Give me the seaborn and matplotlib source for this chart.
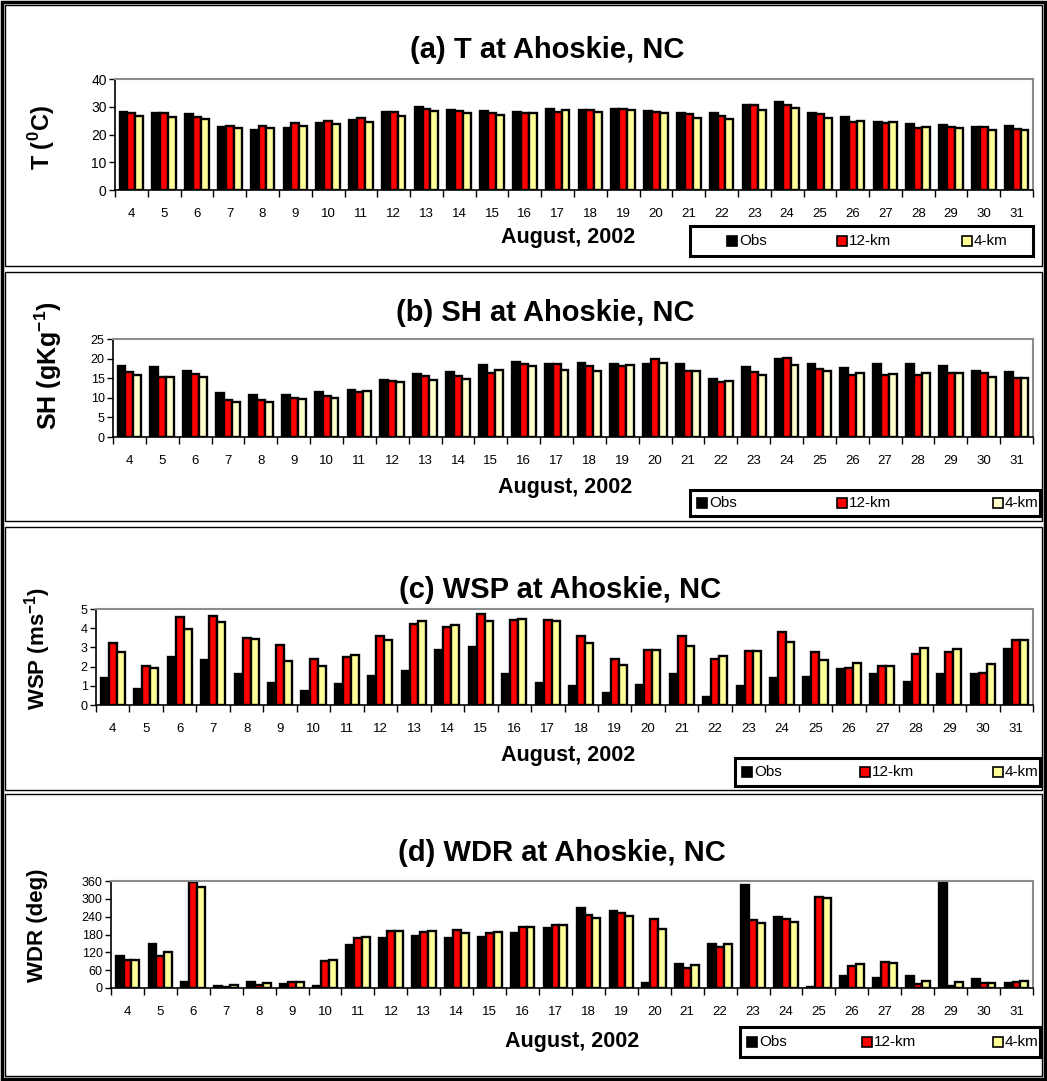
import numpy as np
import pandas as pd
import matplotlib
matplotlib.use("Agg")
import matplotlib.pyplot as plt
from matplotlib.patches import Rectangle
import seaborn as sns

sns.set_theme(style="white")
plt.rcParams["font.family"] = ["Liberation Sans", "DejaVu Sans"]
plt.rcParams["mathtext.fontset"] = "custom"
plt.rcParams["mathtext.rm"] = "Liberation Sans:bold"
plt.rcParams["mathtext.bf"] = "Liberation Sans:bold"
plt.rcParams["text.color"] = "black"
plt.rcParams["axes.labelcolor"] = "black"

days = [str(d) for d in range(4, 32)]
runs = ["Obs", "12-km", "4-km"]

# (a) temperature, deg C
t_obs = [28.1, 27.9, 27.4, 22.7, 21.5, 22.4, 24.2, 25.1, 28.2, 30.0, 28.9, 28.6, 28.1, 29.3,
         28.8, 29.1, 28.5, 27.6, 27.6, 30.7, 31.6, 27.6, 26.4, 24.6, 23.9, 23.4, 22.8, 23.0]
t_12 = [27.9, 27.7, 26.3, 23.0, 23.0, 24.2, 24.8, 25.8, 28.1, 29.1, 28.6, 27.9, 27.6, 28.2,
        28.9, 29.2, 28.1, 27.3, 26.7, 30.7, 30.7, 27.5, 24.6, 24.0, 22.4, 22.7, 22.6, 22.1]
t_4 = [26.7, 26.2, 25.6, 22.4, 22.2, 23.2, 23.9, 24.4, 26.8, 28.6, 27.9, 27.0, 27.7, 28.7,
       28.0, 28.7, 27.9, 26.1, 25.7, 28.9, 29.4, 26.1, 25.0, 24.5, 22.7, 22.4, 21.8, 21.8]

# (b) specific humidity, g/kg
sh_obs = [18.2, 17.8, 16.9, 11.3, 10.8, 10.6, 11.4, 12.1, 14.5, 16.0, 16.5, 18.3, 19.1, 18.6,
          18.9, 18.5, 18.6, 18.5, 14.7, 17.8, 20.0, 18.5, 17.6, 18.5, 18.6, 18.0, 16.9, 16.7]
sh_12 = [16.5, 15.4, 16.1, 9.4, 9.5, 9.9, 10.5, 11.5, 14.2, 15.6, 15.5, 16.3, 18.6, 18.6,
         18.2, 18.0, 19.9, 16.9, 14.0, 16.5, 20.1, 17.4, 15.9, 15.9, 15.9, 16.3, 16.2, 15.1]
sh_4 = [15.9, 15.4, 15.3, 8.9, 9.0, 9.7, 9.9, 11.7, 14.0, 14.5, 14.8, 17.0, 18.0, 17.2,
        16.8, 18.4, 19.0, 16.9, 14.2, 15.9, 18.3, 16.8, 16.4, 16.1, 16.4, 16.2, 15.3, 15.1]

# (c) wind speed, m/s
wsp_obs = [1.41, 0.85, 2.51, 2.35, 1.60, 1.17, 0.75, 1.10, 1.52, 1.76, 2.87, 3.01, 1.60, 1.16,
           0.99, 0.64, 1.05, 1.59, 0.42, 0.98, 1.41, 1.48, 1.90, 1.59, 1.18, 1.59, 1.59, 2.94]
wsp_12 = [3.22, 2.02, 4.56, 4.62, 3.47, 3.10, 2.37, 2.49, 3.57, 4.22, 4.04, 4.74, 4.41, 4.44,
          3.61, 2.42, 2.87, 3.57, 2.39, 2.79, 3.82, 2.77, 1.95, 2.04, 2.68, 2.74, 1.69, 3.41]
wsp_4 = [2.77, 1.92, 3.95, 4.30, 3.45, 2.30, 2.02, 2.60, 3.41, 4.36, 4.16, 4.36, 4.46, 4.39,
         3.22, 2.09, 2.87, 3.05, 2.56, 2.79, 3.26, 2.33, 2.18, 2.04, 2.98, 2.91, 2.16, 3.41]

# (d) wind direction, deg
wdr_obs = [107, 148, 20, 7, 20, 12, 8, 146, 168, 176, 167, 171, 184, 203,
           268, 259, 17, 81, 148, 348, 239, 2, 39, 35, 39, 352, 29, 17]
wdr_12 = [94, 109, 355, 5, 11, 19, 91, 167, 191, 188, 194, 186, 204, 212,
          245, 252, 231, 67, 137, 230, 233, 307, 74, 89, 13, 8, 16, 19]
wdr_4 = [94, 120, 339, 10, 18, 19, 94, 171, 193, 192, 185, 190, 204, 212,
         234, 243, 200, 77, 149, 219, 221, 302, 80, 83, 22, 19, 16, 22]

W, H = 1047, 1081
fig = plt.figure(figsize=(W / 100, H / 100), dpi=100)


def fx(x):
    return x / W


def fy(y):
    return 1 - y / H


def add_axes_px(left, top, right, bottom):
    return fig.add_axes([fx(left), fy(bottom), (right - left) / W, (bottom - top) / H])


def rect_px(left, top, right, bottom, **kw):
    fig.add_artist(Rectangle((fx(left), fy(bottom)), (right - left) / W, (bottom - top) / H,
                             transform=fig.transFigure, **kw))


panels = [
    dict(title="(a) T at Ahoskie, NC", vals=(t_obs, t_12, t_4),
         ylab=r"T ($^{0}$C)", ylim=(0, 40), ystep=10, ytick_fs=10,
         ax_px=(115, 79, 1033, 190), title_xy=(547, 50), ylab_xy=(42, 138), ylab_fs=17,
         xlab_xy=(568, 238), leg_px=(690, 226, 1033, 256), leg_x=(727, 837, 962),
         box=(5, 5, 1042, 266), light="#FFFF99"),
    dict(title="(b) SH at Ahoskie, NC", vals=(sh_obs, sh_12, sh_4),
         ylab=r"SH (gKg$^{-1}$)", ylim=(0, 25), ystep=5, ytick_fs=9,
         ax_px=(113, 339, 1033, 437), title_xy=(545, 313), ylab_xy=(48, 366), ylab_fs=18,
         xlab_xy=(565, 487), leg_px=(690, 490, 1040, 516), leg_x=(697, 837, 993),
         box=(5, 272, 1042, 521), light="#FFFFCC"),
    dict(title="(c) WSP at Ahoskie, NC", vals=(wsp_obs, wsp_12, wsp_4),
         ylab=r"WSP (ms$^{-1}$)", ylim=(0, 5), ystep=1, ytick_fs=9,
         ax_px=(96, 609, 1033, 705), title_xy=(560, 590), ylab_xy=(38, 648), ylab_fs=16,
         xlab_xy=(568, 755), leg_px=(735, 758, 1040, 786), leg_x=(742, 860, 993),
         box=(5, 527, 1042, 790), light="#FFFF99"),
    dict(title="(d) WDR at Ahoskie, NC", vals=(wdr_obs, wdr_12, wdr_4),
         ylab="WDR (deg)", ylim=(0, 360), ystep=60, ytick_fs=9,
         ax_px=(111, 881, 1033, 988), title_xy=(562, 853), ylab_xy=(37, 925), ylab_fs=16,
         xlab_xy=(572, 1041), leg_px=(740, 1027, 1040, 1057), leg_x=(747, 862, 993),
         box=(5, 794, 1042, 1076), light="#FFFF99"),
]

for p in panels:
    colors = ["#000000", "#FF0000", p["light"]]
    df = pd.DataFrame({
        "day": days * 3,
        "run": np.repeat(runs, len(days)),
        "value": np.concatenate([np.asarray(v, dtype=float) for v in p["vals"]]),
    })
    ax = add_axes_px(*p["ax_px"])
    sns.barplot(data=df, x="day", y="value", hue="run", order=days, hue_order=runs,
                palette=colors, width=0.72, edgecolor="black", linewidth=1.7,
                saturation=1, legend=False, ax=ax)
    ax.set_xlim(-0.5, len(days) - 0.5)
    ax.set_ylim(*p["ylim"])
    ax.set_yticks(np.arange(p["ylim"][0], p["ylim"][1] + 0.001, p["ystep"]))
    ax.set_xlabel("")
    ax.set_ylabel("")
    ax.set_facecolor("white")
    ax.grid(False)
    for side in ("top", "right"):
        ax.spines[side].set_color("#8c8c8c")
        ax.spines[side].set_linewidth(1.5)
    for side in ("left", "bottom"):
        ax.spines[side].set_color("black")
        ax.spines[side].set_linewidth(1.2)
    ax.tick_params(axis="x", which="major", length=0, pad=13, labelsize=9.5,
                   colors="black")
    ax.set_xticks(np.arange(-0.5, len(days), 1.0), minor=True)
    ax.tick_params(axis="x", which="minor", length=5, width=1, direction="out",
                   color="black", bottom=True)
    ax.tick_params(axis="y", length=4, width=1, direction="out", left=True,
                   labelsize=p["ytick_fs"], pad=2, colors="black")

    fig.text(fx(p["title_xy"][0]), fy(p["title_xy"][1]), p["title"], ha="center",
             va="center", fontsize=21, fontweight="bold")
    fig.text(fx(p["ylab_xy"][0]), fy(p["ylab_xy"][1]), p["ylab"], ha="center",
             va="center", rotation=90, fontsize=p["ylab_fs"], fontweight="bold")
    fig.text(fx(p["xlab_xy"][0]), fy(p["xlab_xy"][1]), "August, 2002", ha="center",
             va="center", fontsize=15.5, fontweight="bold")

    # legend box with three square keys
    l, t, r, b = p["leg_px"]
    rect_px(l, t, r, b, fill=True, facecolor="white", edgecolor="black", linewidth=2.2)
    cy = (t + b) / 2
    for mx, name, c in zip(p["leg_x"], runs, colors):
        rect_px(mx, cy - 5, mx + 10, cy + 5, facecolor=c, edgecolor="black", linewidth=1.2)
        fig.text(fx(mx + 12), fy(cy), name, ha="left", va="center", fontsize=11)

    rect_px(*p["box"], fill=False, edgecolor="black", linewidth=1.0)

rect_px(2, 2, 1045, 1079, fill=False, edgecolor="black", linewidth=2.5)

fig.savefig("out.png", dpi=100, facecolor="white")
